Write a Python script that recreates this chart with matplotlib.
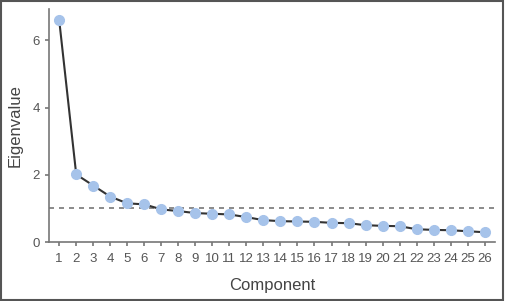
import numpy as np
import matplotlib.pyplot as plt

plt.rcParams['font.family'] = ['Liberation Sans', 'DejaVu Sans']

# scree plot data
components = np.arange(1, 27)
eigenvalues = [6.60, 2.01, 1.68, 1.35, 1.15, 1.12, 0.97, 0.92, 0.86, 0.84,
               0.82, 0.74, 0.65, 0.62, 0.61, 0.60, 0.57, 0.56, 0.50, 0.48,
               0.47, 0.38, 0.36, 0.35, 0.32, 0.29]
cutoff = 1.0

fig = plt.figure(figsize=(5.05, 3.01), dpi=100)
ax = fig.add_axes([0.097, 0.196, 0.883, 0.774])

ax.axhline(cutoff, color='#777777', linestyle=(0, (3, 3)), linewidth=1.2, zorder=1)
ax.plot(components, eigenvalues, color='#333333', linewidth=1.5, zorder=2,
        marker='o', markersize=7, markerfacecolor='#a6c3ea',
        markeredgecolor='#a6c3ea')

ax.set_xlim(0.4, 26.6)
ax.set_ylim(0, 6.93)
ax.set_xticks(components)
ax.set_yticks([0, 2, 4, 6])
ax.set_xlabel('Component', fontsize=12, color='#444444', labelpad=9)
ax.set_ylabel('Eigenvalue', fontsize=12, color='#444444', labelpad=7)

for s in ['top', 'right']:
    ax.spines[s].set_visible(False)
for s in ['left', 'bottom']:
    ax.spines[s].set_color('#777777')
    ax.spines[s].set_linewidth(1.2)
ax.tick_params(colors='#777777', labelcolor='#555555', labelsize=9.5,
               length=3, width=1.2)
ax.tick_params(axis='x', pad=5)

# frame around the whole figure
fig.patches.append(plt.Rectangle((0.002, 0.003), 0.994, 0.994, transform=fig.transFigure,
                                 fill=False, edgecolor='#555555', linewidth=1.5))

fig.savefig('out.png', dpi=100)
